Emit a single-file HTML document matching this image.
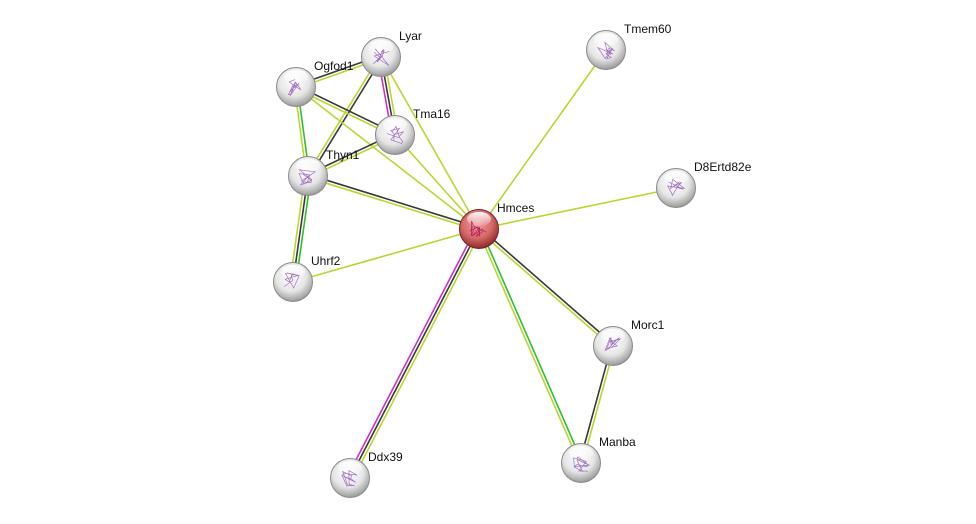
<!DOCTYPE html>
<html><head><meta charset="utf-8"><style>
html,body{margin:0;padding:0;background:#fff;}
svg{display:block;}
text{font-family:"Liberation Sans",sans-serif;font-size:12px;fill:#111;}
</style></head><body>
<svg id="s" width="976" height="524" xmlns="http://www.w3.org/2000/svg">
<defs>
<radialGradient id="gw" cx="45%" cy="35%" r="65%">
<stop offset="0" stop-color="#ffffff"/><stop offset="0.6" stop-color="#e6e6e6"/><stop offset="1" stop-color="#9a9a9a"/></radialGradient>
<radialGradient id="gr" cx="45%" cy="35%" r="65%">
<stop offset="0" stop-color="#f0a0a0"/><stop offset="0.6" stop-color="#d56868"/><stop offset="1" stop-color="#8e2a2a"/></radialGradient>
<linearGradient id="hl" x1="0" y1="0" x2="0" y2="1"><stop offset="0" stop-color="#fff" stop-opacity="0.95"/><stop offset="1" stop-color="#fff" stop-opacity="0.1"/></linearGradient>
</defs>
<g id="edges"></g>
<g id="nodes"></g>
</svg>
<script>
var N={Lyar:[381,57],Ogfod1:[296,87],Tma16:[395,135],Thyn1:[308,176],Uhrf2:[293,282],Hmces:[479,229],Tmem60:[606,50],D8Ertd82e:[676,188],Morc1:[613,346],Manba:[581,463],Ddx39:[350,478]};
var C={y:"#b9d731",k:"#3a3a3a",g:"#2ec02e",m:"#d12fd1"};
var E=[["Lyar","Ogfod1","yk"],["Lyar","Tma16","ykm"],["Lyar","Thyn1","ky"],["Lyar","Hmces","y"],["Ogfod1","Tma16","ky"],["Ogfod1","Thyn1","gy"],["Ogfod1","Hmces","y"],["Tma16","Thyn1","yk"],["Tma16","Hmces","y"],["Thyn1","Hmces","ky"],["Thyn1","Uhrf2","gky"],["Uhrf2","Hmces","y"],["Hmces","Tmem60","y"],["Hmces","D8Ertd82e","y"],["Hmces","Morc1","ky"],["Hmces","Manba","gy"],["Hmces","Ddx39","ykm"],["Morc1","Manba","yk"]];
var ns="http://www.w3.org/2000/svg",ge=document.getElementById("edges"),gn=document.getElementById("nodes");
E.forEach(function(e){var a=N[e[0]],b=N[e[1]],dx=b[0]-a[0],dy=b[1]-a[1],L=Math.hypot(dx,dy),px=-dy/L,py=dx/L,n=e[2].length;
for(var i=0;i<n;i++){var o=(i-(n-1)/2)*3;var l=document.createElementNS(ns,"line");
l.setAttribute("x1",a[0]+px*o);l.setAttribute("y1",a[1]+py*o);l.setAttribute("x2",b[0]+px*o);l.setAttribute("y2",b[1]+py*o);
l.setAttribute("stroke",C[e[2][i]]);l.setAttribute("stroke-width","1.6");ge.appendChild(l);}});
var seed=7;function rnd(){seed=(seed*9301+49297)%233280;return seed/233280;}
for(var k in N){var p=N[k],red=k=="Hmces";
var c=document.createElementNS(ns,"circle");c.setAttribute("cx",p[0]);c.setAttribute("cy",p[1]);c.setAttribute("r",19.5);
c.setAttribute("fill",red?"url(#gr)":"url(#gw)");c.setAttribute("stroke",red?"#7a2020":"#8a8a8a");c.setAttribute("stroke-width","1");gn.appendChild(c);
var h=document.createElementNS(ns,"ellipse");h.setAttribute("cx",p[0]);h.setAttribute("cy",p[1]-10);h.setAttribute("rx",12);h.setAttribute("ry",7);h.setAttribute("fill","url(#hl)");gn.appendChild(h);
var sc=document.createElementNS(ns,"path");var d="";for(var j=0;j<14;j++){d+=(j?"L":"M")+(p[0]-9+rnd()*18).toFixed(1)+" "+(p[1]-9+rnd()*18).toFixed(1);}
sc.setAttribute("d",d);sc.setAttribute("fill","none");sc.setAttribute("stroke",red?"#b0205a":"#a070c0");sc.setAttribute("stroke-width","0.7");gn.appendChild(sc);
var t=document.createElementNS(ns,"text");t.setAttribute("x",p[0]+18);t.setAttribute("y",p[1]-17);t.textContent=k;gn.appendChild(t);}
</script>
</body></html>
